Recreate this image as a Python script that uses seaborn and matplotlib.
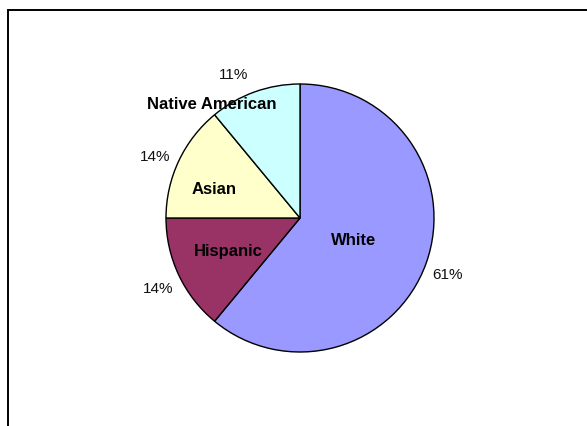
import numpy as np
import matplotlib
matplotlib.use("Agg")
import matplotlib.pyplot as plt
import matplotlib.patches as mpatches
import seaborn as sns

groups = ["White", "Hispanic", "Asian", "Native American"]
shares = [61, 14, 14, 11]
slice_colors = ["#9999FF", "#993366", "#FFFFCC", "#CCFFFF"]

# where the bold names sit (fraction of radius), plus a turn for the long one
name_radius = [0.43, 0.59, 0.68, 1.08]
name_turn = [-2, -1, 6, 18]
pct_turn = [-1, 1, 2, 5]

sns.set_theme(style="white")
plt.rcParams["font.family"] = ["Liberation Sans", "DejaVu Sans"]

fig = plt.figure(figsize=(5.87, 4.27), dpi=100)
fig.patch.set_facecolor("white")

# outer frame like the Excel chart area (cut off at right and bottom)
frame = mpatches.Rectangle((0.075, -0.2), 6.0, 4.365, transform=fig.dpi_scale_trans,
                           fill=False, edgecolor="black", linewidth=1.4)
fig.patches.append(frame)

# pie centre at (300, 219) px, radius 134 px
r_px = 134
cx, cy = 300, 219
W, H = 587, 427
ax = fig.add_axes([(cx - r_px) / W, (H - cy - r_px) / H, 2 * r_px / W, 2 * r_px / H])

wedges, _, pct_texts = ax.pie(
    shares,
    colors=slice_colors,
    startangle=90,
    counterclock=False,
    autopct="%1.0f%%",
    pctdistance=1.18,
    wedgeprops=dict(edgecolor="black", linewidth=1.0),
    textprops=dict(fontsize=11, color="#111111"),
)
ax.set_xlim(-1, 1)
ax.set_ylim(-1, 1)
ax.set_aspect("equal")
ax.axis("off")

for w, t, name, rad, turn, pturn in zip(wedges, pct_texts, groups, name_radius, name_turn, pct_turn):
    half = (w.theta1 + w.theta2) / 2
    mid = np.deg2rad(half + turn)
    ax.text(rad * np.cos(mid), rad * np.sin(mid), name, ha="center", va="center",
            fontsize=12, fontweight="bold", color="black")
    pmid = np.deg2rad(half + pturn)
    t.set_position((1.18 * np.cos(pmid), 1.18 * np.sin(pmid)))

fig.savefig("out.png", dpi=100)
